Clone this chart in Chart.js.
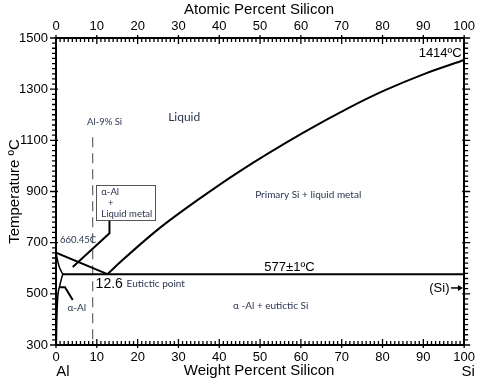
<!DOCTYPE html>
<html>
<head>
<meta charset="utf-8">
<script src="https://cdn.jsdelivr.net/npm/chart.js@4/dist/chart.umd.min.js"></script>
<style>
  body { margin: 0; background: #fff; }
  canvas { display: block; }
</style>
</head>
<body>
<canvas id="phaseChart" width="480" height="382"></canvas>
<script>
//Al-Si phase diagram data (wt% Si, temperature C)
const liquidusAlWt = [0, 12.6];
const liquidusAlT = [660.45, 577];
const liquidusSiWt = [12.6, 16.3, 25, 35, 44.8, 60.6, 71.5, 80.5, 90.3, 100];
const liquidusSiT = [577, 632, 752, 870, 977, 1130, 1225, 1295, 1360, 1414];
const eutecticWt = [1.65, 100];
const eutecticT = [577, 577];
const solidusWt = [0, 0.7, 1.65];
const solidusT = [660.45, 610, 577];
const solvusWt = [1.65, 0.9, 0.4, 0.2, 0.08];
const solvusT = [577, 530, 480, 400, 300];
const alloyWt = [9, 9];
const alloyT = [1112, 300];
//leader lines for labels
const alphaLeaderWt = [0.97, 2.2, 4.1];
const alphaLeaderT = [526, 526, 476];
const boxLeaderWt = [4.1, 13.1, 13.1];
const boxLeaderT = [605, 737, 786];

const wtTicks = [0, 10, 20, 30, 40, 50, 60, 70, 80, 90, 100];
const tempTicks = [300, 500, 700, 900, 1100, 1300, 1500];

function pts(xs, ys) {
    return xs.map((x, i) => ({ x: x, y: ys[i] }));
}

function lineSet(xs, ys, width, smooth, dash, color) {
    return {
        data: pts(xs, ys),
        borderColor: color || '#000',
        borderWidth: width,
        borderDash: dash || [],
        pointRadius: 0,
        tension: smooth ? 0.4 : 0,
        cubicInterpolationMode: smooth ? 'monotone' : 'default',
        fill: false
    };
}

const AXIS_FONT = '"Liberation Sans", Arial, sans-serif';
const NOTE_FONT = 'Lato, "Open Sans", sans-serif';
const NOTE_COLOR = '#2b3550';

//text notes placed in data coordinates
const notes = [
    { t: 'Liquid', x: 31.4, y: 1190, font: '12px ' + NOTE_FONT, align: 'center' },
    { t: 'Al-9% Si', x: 11.9, y: 1171, font: '9.5px ' + NOTE_FONT, align: 'center' },
    { t: 'Primary Si + liquid metal', x: 61.8, y: 886, font: '10px ' + NOTE_FONT, align: 'center' },
    { t: '577±1ºC', x: 57.2, y: 605, font: '13px ' + AXIS_FONT, align: 'center', color: '#000' },
    { t: '12.6', x: 9.7, y: 538, font: '14px ' + AXIS_FONT, align: 'left', color: '#000' },
    { t: 'Eutictic point', x: 17.3, y: 538, font: '10px ' + NOTE_FONT, align: 'left' },
    { t: 'α-Al', x: 5.1, y: 444, font: '10px ' + NOTE_FONT, align: 'center' },
    { t: 'α -Al + eutictic Si', x: 52.6, y: 452, font: '10px ' + NOTE_FONT, align: 'center' },
    { t: '(Si)', x: 96.4, y: 523, font: '13px ' + AXIS_FONT, align: 'right', color: '#000' },
    { t: '1414ºC', x: 99.4, y: 1440, font: '13px ' + AXIS_FONT, align: 'right', color: '#000' },
    { t: '660.45C', x: 1.0, y: 710, font: '9.5px ' + NOTE_FONT, align: 'left' },
    { t: 'α-Al', x: 11.1, y: 898, font: '9.5px ' + NOTE_FONT, align: 'left' },
    { t: '+', x: 13.4, y: 855, font: '9.5px ' + NOTE_FONT, align: 'center' },
    { t: 'Liquid metal', x: 11.1, y: 812, font: '9.5px ' + NOTE_FONT, align: 'left' }
];

//minor and major ticks: inside on x axes, outside on y axes
const ticksPlugin = {
    id: 'minorTicks',
    afterDraw(chart) {
        const c = chart.ctx;
        const xs = chart.scales.x, ys = chart.scales.y;
        const a = chart.chartArea;
        c.save();
        c.strokeStyle = '#000';
        c.lineWidth = 1.3;
        c.setLineDash([]);
        c.beginPath();
        for (let w = 0; w <= 100; w++) {
            const px = xs.getPixelForValue(w);
            const major = w % 10 === 0;
            c.moveTo(px, a.bottom - (major ? 6 : 4));
            c.lineTo(px, a.bottom + (major ? 3 : 0));
            c.moveTo(px, a.top - (major ? 3 : 0));
            c.lineTo(px, a.top + (major ? 6 : 4));
        }
        for (let t = 300; t <= 1500; t += 20) {
            const py = ys.getPixelForValue(t);
            const major = t % 200 === 100;
            c.moveTo(a.left - (major ? 6 : 4), py);
            c.lineTo(a.left + (major ? 2 : 0), py);
            c.moveTo(a.right - (major ? 2 : 0), py);
            c.lineTo(a.right + (major ? 6 : 4), py);
        }
        c.stroke();
        c.restore();
    }
};

const decorPlugin = {
    id: 'decor',
    afterDraw(chart) {
        const c = chart.ctx;
        const xs = chart.scales.x, ys = chart.scales.y;
        const a = chart.chartArea;
        c.save();

        //box round "a-Al + Liquid metal"
        const bx1 = xs.getPixelForValue(9.9), bx2 = xs.getPixelForValue(24.3);
        const by1 = ys.getPixelForValue(925), by2 = ys.getPixelForValue(788);
        c.fillStyle = '#fff';
        c.fillRect(bx1, by1, bx2 - bx1, by2 - by1);
        c.strokeStyle = '#555';
        c.lineWidth = 1;
        c.strokeRect(Math.round(bx1) + 0.5, Math.round(by1) + 0.5, Math.round(bx2 - bx1), Math.round(by2 - by1));

        //arrow for (Si)
        const ay = ys.getPixelForValue(523);
        const ax1 = xs.getPixelForValue(96.8), ax2 = xs.getPixelForValue(99.7);
        c.strokeStyle = '#000';
        c.lineWidth = 1.5;
        c.beginPath();
        c.moveTo(ax1, ay);
        c.lineTo(ax2 - 3, ay);
        c.stroke();
        c.fillStyle = '#000';
        c.beginPath();
        c.moveTo(ax2, ay);
        c.lineTo(ax2 - 5, ay - 3);
        c.lineTo(ax2 - 5, ay + 3);
        c.closePath();
        c.fill();

        //notes
        c.textBaseline = 'middle';
        notes.forEach(n => {
            c.font = n.font;
            c.fillStyle = n.color || NOTE_COLOR;
            c.textAlign = n.align;
            c.fillText(n.t, xs.getPixelForValue(n.x), ys.getPixelForValue(n.y));
        });

        //axis titles
        c.fillStyle = '#000';
        c.font = '15px ' + AXIS_FONT;
        c.textAlign = 'center';
        c.fillText('Atomic Percent Silicon', (a.left + a.right) / 2 - 1, 10);
        c.fillText('Weight Percent Silicon', (a.left + a.right) / 2 - 1, 371);
        c.fillText('Al', a.left + 7, 372);
        c.fillText('Si', a.right + 4, 372);
        c.save();
        c.translate(15, (a.top + a.bottom) / 2);
        c.rotate(-Math.PI / 2);
        c.fillText('Temperature ºC', 0, 0);
        c.restore();

        c.restore();
    }
};

function tickOpts(pad) {
    return {
        autoSkip: false,
        font: { family: AXIS_FONT, size: 13 },
        color: '#000',
        maxRotation: 0,
        padding: pad,
        callback: v => String(v)
    };
}

new Chart(document.getElementById('phaseChart'), {
    type: 'line',
    data: {
        datasets: [
            lineSet(liquidusAlWt, liquidusAlT, 2),
            lineSet(liquidusSiWt, liquidusSiT, 2, true),
            lineSet(eutecticWt, eutecticT, 2),
            lineSet(solidusWt, solidusT, 1.5, true),
            lineSet(solvusWt, solvusT, 1.5, true),
            lineSet(alloyWt, alloyT, 1, false, [10, 6], '#444'),
            lineSet(alphaLeaderWt, alphaLeaderT, 2),
            lineSet(boxLeaderWt, boxLeaderT, 2)
        ]
    },
    options: {
        responsive: false,
        animation: false,
        layout: { padding: 0 },
        plugins: {
            legend: { display: false },
            tooltip: { enabled: false }
        },
        scales: {
            x: {
                type: 'linear', position: 'bottom', min: 0, max: 100,
                afterBuildTicks: s => { s.ticks = wtTicks.map(v => ({ value: v })); },
                ticks: tickOpts(5),
                grid: { display: false, drawTicks: false },
                border: { display: true, color: '#000', width: 2 },
                afterFit: s => { s.height = 37; }
            },
            x2: {
                type: 'linear', position: 'top', min: 0, max: 100,
                afterBuildTicks: s => { s.ticks = wtTicks.map(v => ({ value: v })); },
                ticks: tickOpts(4),
                grid: { display: false, drawTicks: false },
                border: { display: true, color: '#000', width: 2 },
                afterFit: s => { s.height = 38; }
            },
            y: {
                type: 'linear', position: 'left', min: 300, max: 1500,
                afterBuildTicks: s => { s.ticks = tempTicks.map(v => ({ value: v })); },
                ticks: tickOpts(8),
                grid: { display: false, drawTicks: false },
                border: { display: true, color: '#000', width: 2 },
                afterFit: s => { s.width = 56; }
            },
            y2: {
                type: 'linear', position: 'right', min: 300, max: 1500,
                ticks: { display: false },
                grid: { display: false, drawTicks: false },
                border: { display: true, color: '#000', width: 2 },
                afterFit: s => { s.width = 13; }
            }
        }
    },
    plugins: [ticksPlugin, decorPlugin]
});
</script>
</body>
</html>
